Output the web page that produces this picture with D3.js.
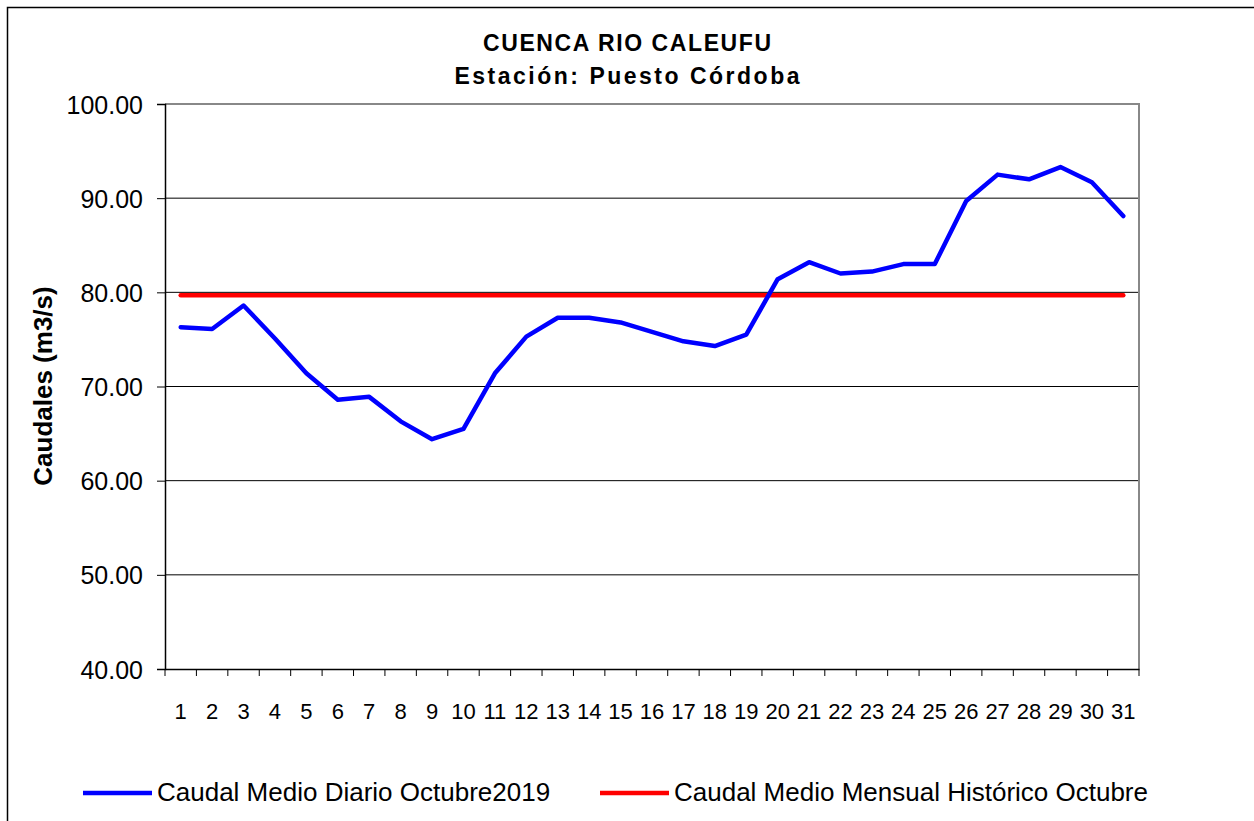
<!DOCTYPE html>
<html>
<head>
<meta charset="utf-8">
<script src="https://cdn.jsdelivr.net/npm/d3@7"></script>
<style>
  body { margin: 0; background: #fff; }
  svg { display: block; font-family: "Liberation Sans", Arial, sans-serif; }
</style>
</head>
<body>
<div id="chart"></div>
<script>
// categories (days of October) and series values
const dias = ['1','2','3','4','5','6','7','8','9','10','11','12','13','14','15','16',
  '17','18','19','20','21','22','23','24','25','26','27','28','29','30','31'];

const caudalDiario = [76.3, 76.1, 78.6, 75.1, 71.4, 68.6, 68.9, 66.3, 64.4, 65.5,
  71.4, 75.3, 77.3, 77.3, 76.8, 75.8, 74.8, 74.3, 75.5, 81.4,
  83.2, 82.0, 82.2, 83.0, 83.0, 89.7, 92.5, 92.0, 93.3, 91.7, 88.1];

const caudalHistorico = [79.7, 79.7, 79.7, 79.7, 79.7, 79.7, 79.7, 79.7, 79.7, 79.7,
  79.7, 79.7, 79.7, 79.7, 79.7, 79.7, 79.7, 79.7, 79.7, 79.7,
  79.7, 79.7, 79.7, 79.7, 79.7, 79.7, 79.7, 79.7, 79.7, 79.7, 79.7];

const yTicks = [40, 50, 60, 70, 80, 90, 100];

const series = [
  { name: 'Caudal Medio Diario Octubre2019', values: caudalDiario, color: '#0000ff' },
  { name: 'Caudal Medio Mensual Histórico Octubre', values: caudalHistorico, color: '#ff0000' }
];

const width = 1254, height = 821;
const margin = { top: 104, right: 115, bottom: 152, left: 165 };
const plotW = width - margin.left - margin.right;
const plotH = height - margin.top - margin.bottom;

const svg = d3.select('#chart')
  .append('svg')
  .attr('width', width)
  .attr('height', height);

// outer chart frame (runs off the right and bottom edges)
svg.append('rect')
  .attr('x', 7.5).attr('y', 7.5)
  .attr('width', 1300).attr('height', 900)
  .attr('fill', 'none')
  .attr('stroke', '#000')
  .attr('stroke-width', 1.5);

// title, spread out like the original
const title = svg.append('text')
  .attr('text-anchor', 'middle')
  .style('font-weight', 'bold')
  .style('font-size', '23px');
title.append('tspan').attr('x', 627).attr('y', 51)
  .attr('textLength', 288).attr('lengthAdjust', 'spacing')
  .text('CUENCA RIO CALEUFU');
title.append('tspan').attr('x', 627).attr('y', 84)
  .attr('textLength', 345).attr('lengthAdjust', 'spacing')
  .text('Estación: Puesto Córdoba');

const chart = svg.append('g')
  .attr('transform', `translate(${margin.left}, ${margin.top})`);

const xScale = d3.scaleBand()
  .domain(dias)
  .range([0, plotW]);

const yScale = d3.scaleLinear()
  .domain([40, 100])
  .range([plotH, 0]);

// horizontal gridlines
chart.selectAll('.grid')
  .data(yTicks.filter(d => d > 40 && d < 100))
  .enter()
  .append('line')
  .classed('grid', true)
  .attr('x1', 0).attr('x2', plotW)
  .attr('y1', d => yScale(d)).attr('y2', d => yScale(d))
  .attr('stroke', '#000')
  .attr('stroke-width', 1);

// gray top/right border of plot area
chart.append('path')
  .attr('d', `M0,${yScale(100)}H${plotW}V${plotH}`)
  .attr('fill', 'none')
  .attr('stroke', '#888')
  .attr('stroke-width', 2);

// y axis
const yAxis = d3.axisLeft(yScale)
  .tickValues(yTicks)
  .tickSize(8)
  .tickFormat(d3.format('.2f'));

const gy = chart.append('g')
  .classed('y axis', true)
  .call(yAxis);
gy.select('.domain').attr('stroke', '#000').attr('stroke-width', 1.5);
gy.selectAll('.tick line').attr('stroke', '#000');
gy.selectAll('.tick text')
  .attr('x', -22)
  .attr('dy', '0.36em')
  .style('font-size', '25px')
  .style('font-family', '"Liberation Sans", Arial, sans-serif')
  .attr('fill', '#000');

// x axis: ticks on category boundaries, labels on centers
const xAxis = d3.axisBottom(xScale).tickSize(0).tickPadding(0);
const gx = chart.append('g')
  .classed('x axis', true)
  .attr('transform', `translate(0, ${plotH})`)
  .call(xAxis);
gx.select('.domain').attr('stroke', '#000').attr('stroke-width', 1.5);
gx.selectAll('.tick text')
  .attr('y', 50)
  .attr('dy', 0)
  .style('font-size', '22px')
  .style('font-family', '"Liberation Sans", Arial, sans-serif')
  .attr('fill', '#000');

gx.selectAll('.bound')
  .data(dias.concat(['end']))
  .enter()
  .append('line')
  .classed('bound', true)
  .attr('x1', (d, i) => i < dias.length ? xScale(d) : plotW)
  .attr('x2', (d, i) => i < dias.length ? xScale(d) : plotW)
  .attr('y1', 0).attr('y2', 7)
  .attr('stroke', '#000');

// y axis title
svg.append('text')
  .attr('transform', 'translate(52, 386) rotate(-90)')
  .attr('text-anchor', 'middle')
  .style('font-weight', 'bold')
  .style('font-size', '26px')
  .text('Caudales (m3/s)');

// series lines
const line = d3.line()
  .x((d, i) => xScale(dias[i]) + xScale.bandwidth() / 2)
  .y(d => yScale(d));

chart.selectAll('.serie')
  .data(series.slice().reverse())
  .enter()
  .append('path')
  .classed('serie', true)
  .attr('d', d => line(d.values))
  .attr('fill', 'none')
  .attr('stroke', d => d.color)
  .attr('stroke-width', 4.5)
  .attr('stroke-linejoin', 'round')
  .attr('stroke-linecap', 'round');

// legend
const legendX = [83, 600];
const legend = svg.selectAll('.legend')
  .data(series)
  .enter()
  .append('g')
  .classed('legend', true)
  .attr('transform', (d, i) => `translate(${legendX[i]}, 793)`);

legend.append('line')
  .attr('x1', 0).attr('x2', 69)
  .attr('y1', 0).attr('y2', 0)
  .attr('stroke', d => d.color)
  .attr('stroke-width', 4.5);

legend.append('text')
  .attr('x', 74)
  .attr('y', 8)
  .style('font-size', '26px')
  .text(d => d.name);
</script>
</body>
</html>
